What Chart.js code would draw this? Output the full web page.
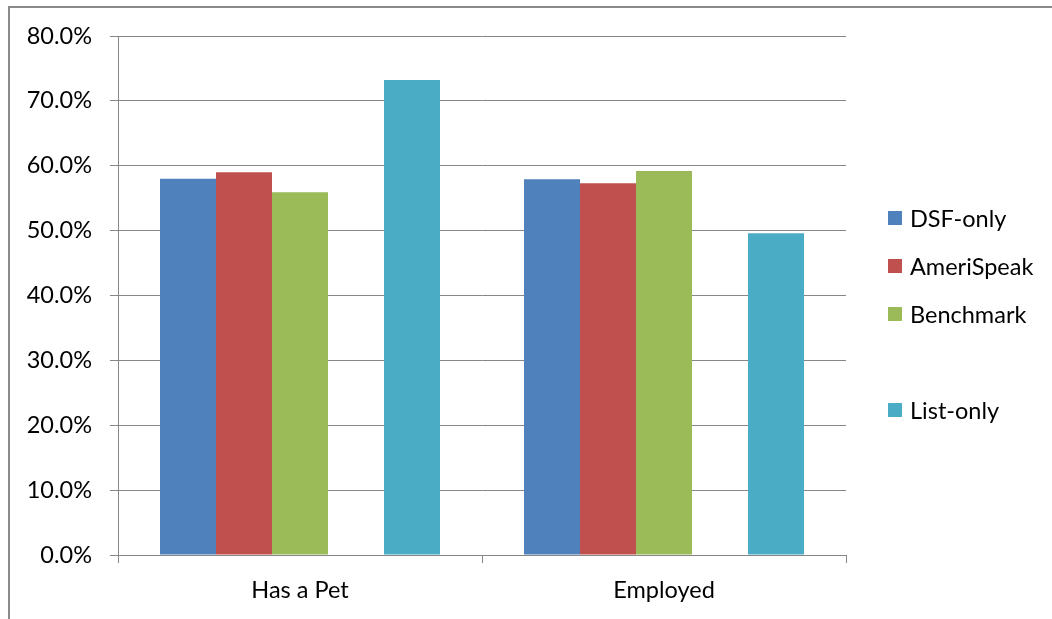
<!DOCTYPE html>
<html>
<head>
<meta charset="utf-8">
<script src="https://cdn.jsdelivr.net/npm/chart.js@4"></script>
<style>
  html, body { margin: 0; padding: 0; background: #fff; }
  #wrap { width: 1052px; height: 619px; position: relative; }
</style>
</head>
<body>
<div id="wrap"><canvas id="c" width="1052" height="619"></canvas></div>
<script>
// Categories and series values (percent)
const categories = ['Has a Pet', 'Employed'];
const dsfOnly    = [58.0, 57.9];
const ameriSpeak = [59.0, 57.3];
const benchmark  = [55.9, 59.2];
const spacer     = [null, null];   // empty series that leaves a gap and a blank legend row
const listOnly   = [73.2, 49.6];
const seriesNames = ['DSF-only', 'AmeriSpeak', 'Benchmark', '', 'List-only'];
const seriesColors = ['#4F81BD', '#C0504D', '#9BBB59', '#F79646', '#4BACC6'];
const yTicks = [0, 10, 20, 30, 40, 50, 60, 70, 80];

const FONT = 'Lato, "Liberation Sans", sans-serif';
const FONT_SIZE = 23.5;
const GRID = '#868686';

// Outer frame and legend drawn after the chart
const framePlugin = {
  id: 'frame',
  afterDraw(chart) {
    const ctx = chart.ctx;
    ctx.save();
    ctx.strokeStyle = '#8a8a8a';
    ctx.lineWidth = 2;
    ctx.beginPath();
    ctx.moveTo(9, chart.height);
    ctx.lineTo(9, 7);
    ctx.lineTo(chart.width, 7);
    ctx.stroke();

    // legend column
    const x0 = 888, y0 = 218, step = 48, box = 14;
    ctx.font = FONT_SIZE + 'px ' + FONT;
    ctx.textBaseline = 'middle';
    ctx.textAlign = 'left';
    chart.data.datasets.forEach((ds, i) => {
      if (!ds.label) return;
      const cy = y0 + i * step;
      ctx.fillStyle = ds.backgroundColor;
      ctx.fillRect(x0, cy - box / 2, box, box);
      ctx.fillStyle = '#000';
      ctx.fillText(ds.label, x0 + 22, cy + 1);
    });
    ctx.restore();
  }
};

const seriesData = [dsfOnly, ameriSpeak, benchmark, spacer, listOnly];

new Chart(document.getElementById('c'), {
  type: 'bar',
  data: {
    labels: categories,
    datasets: seriesData.map((d, i) => ({
      label: seriesNames[i],
      data: d,
      backgroundColor: seriesColors[i],
      borderWidth: 0,
      categoryPercentage: 280 / 364,
      barPercentage: 1.0
    }))
  },
  options: {
    responsive: false,
    animation: false,
    layout: { padding: { left: 0, top: 36, right: 206, bottom: 0 } },
    plugins: {
      legend: { display: false },
      tooltip: { enabled: false }
    },
    scales: {
      x: {
        grid: {
          offset: true,
          drawOnChartArea: false,
          drawTicks: true,
          tickLength: 8,
          color: GRID,
          lineWidth: 1
        },
        border: { color: GRID, width: 1 },
        ticks: {
          color: '#000',
          font: { family: FONT, size: FONT_SIZE },
          padding: 13
        },
        afterFit(scale) { scale.height = 64; }
      },
      y: {
        min: 0,
        max: 80,
        afterBuildTicks(scale) { scale.ticks = yTicks.map(v => ({ value: v })); },
        grid: {
          color: GRID,
          lineWidth: 1,
          tickLength: 8
        },
        border: { color: GRID, width: 1 },
        ticks: {
          color: '#000',
          font: { family: FONT, size: FONT_SIZE },
          padding: 18,
          callback: v => Number(v).toFixed(1) + '%'
        },
        afterFit(scale) { scale.width = 118; }
      }
    }
  },
  plugins: [framePlugin]
});
</script>
</body>
</html>
